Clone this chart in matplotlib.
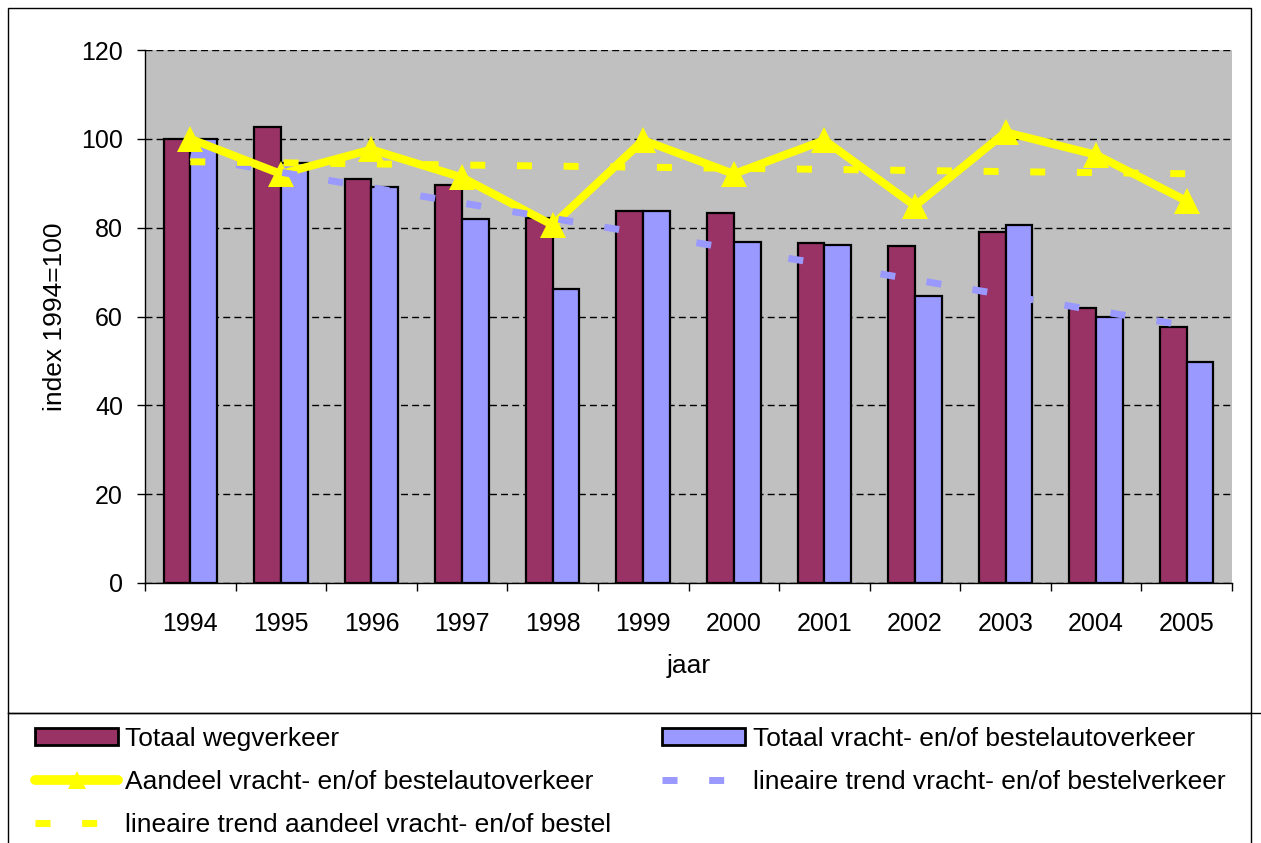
import numpy as np
import matplotlib
matplotlib.use("Agg")
import matplotlib.pyplot as plt
from matplotlib.lines import Line2D
from matplotlib.patches import Patch, Rectangle

plt.rcParams['font.family'] = ['Liberation Sans', 'DejaVu Sans']
plt.rcParams['font.size'] = 18
plt.rcParams['lines.scale_dashes'] = False

# data (index 1994 = 100)
years = ["1994", "1995", "1996", "1997", "1998", "1999",
         "2000", "2001", "2002", "2003", "2004", "2005"]
wegverkeer = [100, 102.7, 90.9, 89.5, 82.1, 83.8, 83.3, 76.5, 75.9, 79.1, 62.0, 57.7]
vracht = [100, 94.5, 89.1, 81.9, 66.2, 83.7, 76.8, 76.2, 64.6, 80.5, 59.8, 49.7]
aandeel = [100, 92.1, 97.6, 91.3, 80.6, 99.7, 92.1, 99.7, 84.9, 101.5, 96.4, 86.0]

maroon = '#993366'
lilac = '#9999FF'
yellow = '#FFFF00'
grey = '#C0C0C0'

x = np.arange(len(years))
# linear trendlines (as in the spreadsheet)
trend_vracht = np.polyval(np.polyfit(x, vracht, 1), x)
trend_aandeel = np.polyval(np.polyfit(x, aandeel, 1), x)

W, H = 1261, 843
fig = plt.figure(figsize=(W / 100, H / 100), dpi=100)
ax = fig.add_axes([145 / W, 1 - 583 / H, 1087 / W, 533 / H])
ax.set_facecolor(grey)

bw = 0.295
ax.bar(x - bw / 2, wegverkeer, bw, color=maroon, edgecolor='black', linewidth=1.6, zorder=2)
ax.bar(x + bw / 2, vracht, bw, color=lilac, edgecolor='black', linewidth=1.6, zorder=2)
ax.plot(x, aandeel, color=yellow, linewidth=5.8, marker='^', markersize=19,
        markeredgewidth=0, zorder=3)
ax.plot(x, trend_vracht, color=lilac, linewidth=5, dashes=(10.8, 22.8),
        dash_capstyle='butt', zorder=4)
ax.plot(x, trend_aandeel, color=yellow, linewidth=5, dashes=(10.8, 22.8),
        dash_capstyle='butt', zorder=4)

ax.set_xlim(-0.5, len(years) - 0.5)
ax.set_ylim(0, 120)
ax.set_yticks(range(0, 121, 20))
ax.set_xticks(x)
ax.set_xticklabels(years)
ax.set_xticks(np.arange(-0.5, len(years)), minor=True)
ax.tick_params(axis='x', which='major', length=0, pad=21)
ax.tick_params(axis='x', which='minor', length=5.8, width=1, direction='out')
ax.tick_params(axis='y', length=5.8, width=1, pad=10)

ax.set_axisbelow(True)
ax.yaxis.grid(True, color='black', linestyle=(0, (5, 3)), linewidth=1)
for s in ['top', 'right']:
    ax.spines[s].set_visible(False)
for s in ['left', 'bottom']:
    ax.spines[s].set_linewidth(1)
    ax.spines[s].set_zorder(5)

ax.set_xlabel('jaar', fontsize=19)
ax.xaxis.set_label_coords(0.5, -0.133)
ax.set_ylabel('index 1994=100', fontsize=19)
ax.yaxis.set_label_coords(-0.072, 0.5)

# chart frame and legend box
fig.add_artist(Rectangle((8 / W, 1 - 713 / H), 1243 / W, 705 / H, transform=fig.transFigure,
                         fill=False, edgecolor='black', linewidth=1))
fig.add_artist(Line2D([8 / W, 1], [1 - 713 / H, 1 - 713 / H], transform=fig.transFigure,
                      color='black', linewidth=1))
fig.add_artist(Line2D([8 / W, 8 / W], [0, 1 - 713 / H], transform=fig.transFigure,
                      color='black', linewidth=1))
fig.add_artist(Line2D([1251 / W, 1251 / W], [0, 1 - 713 / H], transform=fig.transFigure,
                      color='black', linewidth=1))

handles = [
    Patch(facecolor=maroon, edgecolor='black', linewidth=2),
    Line2D([], [], color=yellow, linewidth=7, marker='^', markersize=13,
           markeredgewidth=0, solid_capstyle='round'),
    Line2D([], [], color=yellow, linewidth=5, dashes=(10.8, 22.8)),
    Patch(facecolor=lilac, edgecolor='black', linewidth=2),
    Line2D([], [], color=lilac, linewidth=5, dashes=(10.8, 22.8)),
]
labels = [
    'Totaal wegverkeer',
    'Aandeel vracht- en/of bestelautoverkeer',
    'lineaire trend aandeel vracht- en/of bestel',
    'Totaal vracht- en/of bestelautoverkeer',
    'lineaire trend vracht- en/of bestelverkeer',
]
fig.legend(handles, labels, ncol=2, loc='upper left', fontsize=19,
           bbox_to_anchor=(35 / W, 1 - 727 / H), frameon=False, borderpad=0,
           borderaxespad=0, handlelength=3.15, handleheight=0.6, handletextpad=0.27,
           columnspacing=1.93, labelspacing=0.72)

fig.savefig('out.png', dpi=100)
